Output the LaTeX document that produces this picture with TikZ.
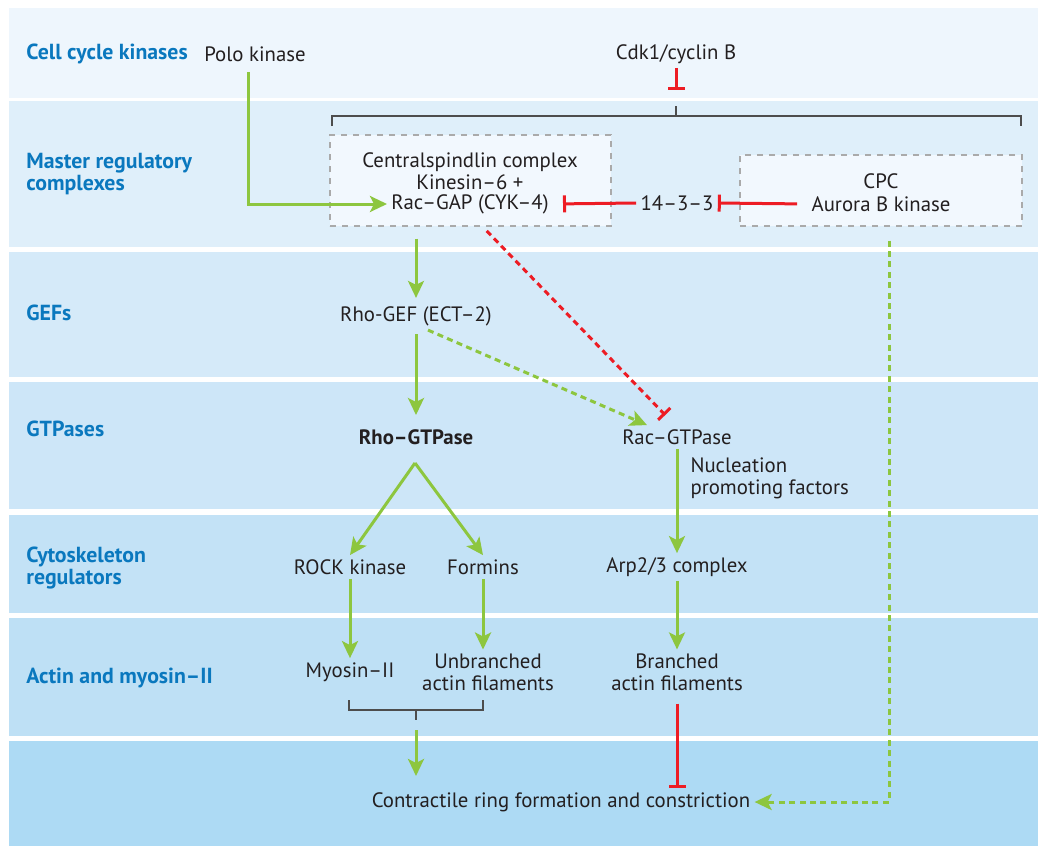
\documentclass[tikz,border=0pt]{standalone}
\usepackage{fontspec}
\setmainfont{PT Sans}
\usetikzlibrary{arrows.meta,positioning}
\definecolor{bandA}{HTML}{EEF6FD}
\definecolor{bandB}{HTML}{DFEFFA}
\definecolor{bandC}{HTML}{D5EAF9}
\definecolor{bandD}{HTML}{CDE6F8}
\definecolor{bandE}{HTML}{C3E2F6}
\definecolor{bandF}{HTML}{BEE0F5}
\definecolor{bandG}{HTML}{ADDAF4}
\definecolor{labelblue}{HTML}{0A78BE}
\definecolor{txtdark}{HTML}{231F20}
\definecolor{actgreen}{HTML}{8DC63F}
\definecolor{inhred}{HTML}{ED1C24}
\definecolor{boxgray}{HTML}{AAAAAA}
\definecolor{boxfill}{HTML}{F2F8FE}
\definecolor{brkgray}{HTML}{4D4D4D}
\newcommand{\diagfont}{\fontsize{10.4}{11.2}\selectfont}
\newcommand{\rowfont}{\fontsize{10.9}{11.4}\selectfont\bfseries}
\tikzset{
  lbl/.style={anchor=west, inner sep=0pt, font=\rowfont, text=labelblue, align=left},
  txt/.style={text=txtdark, align=center, inner sep=2pt, font=\diagfont},
  cxbox/.style={draw=boxgray, dashed, fill=boxfill, line width=0.6pt},
  act/.style={draw=actgreen, line width=1.5pt, -{Stealth[length=8.5pt,width=8pt,inset=2pt]}},
  inh/.style={draw=inhred, line width=1.5pt, -{Bar[width=8.5pt]}},
  dsh/.style={line width=1.5pt, dash pattern=on 3pt off 2.2pt},
  brk/.style={draw=brkgray, line width=0.8pt},
  npf/.style={anchor=west, xshift=4pt, pos=0.28, align=left, text=txtdark, inner sep=2pt, font=\diagfont},
}
\begin{document}
\begin{tikzpicture}[x=0.5pt,y=-0.5pt]
\useasboundingbox (0,0) rectangle (1038,846);
% bands
\foreach \ytop/\ybot/\col in {8/98/bandA,101/247/bandB,252/377/bandC,382/509/bandD,515/613/bandE,618/736/bandF,741/846/bandG}
  \fill[\col] (9,\ytop) rectangle (1038,\ybot);

% row labels
\node[lbl] (lcc) at (26,54) {Cell cycle kinases};
\node[lbl] (lmr) at (26,174) {Master regulatory\\complexes};
\node[lbl] (lgef) at (26,313) {GEFs};
\node[lbl] (lgtp) at (26,429) {GTPases};
\node[lbl] (lcyt) at (26,568) {Cytoskeleton\\regulators};
\node[lbl] (lact) at (26,678) {Actin and myosin–II};

% kinases
\node[txt] (polo) at (255,54) {Polo kinase};
\node[txt] (cdk) at (676,54) {Cdk1/cyclin B};

% complexes
\node[cxbox, minimum width=140.5pt, minimum height=45.5pt] (csbox) at (470.5,180.5) {};
\node[txt] (cs) at (470,171) {Centralspindlin complex\\Kinesin–6 +};
\node[txt] (racgap) at (470,204) {Rac–GAP (CYK–4)};
\node[cxbox, minimum width=141pt, minimum height=35.5pt] (cpcbox) at (881,190.5) {};
\node[txt] (cpc) at (881,181) {CPC};
\node[txt] (aurora) at (881,204) {Aurora B kinase};
\node[txt] (p1433) at (677,203) {14–3–3};

% GEFs and GTPases
\node[txt] (rhogef) at (416,316) {Rho-GEF (ECT–2)};
\node[txt, font=\diagfont\bfseries] (rhogtp) at (416,437) {Rho–GTPase};
\node[txt] (racgtp) at (677,437) {Rac–GTPase};

% cytoskeleton regulators
\node[txt] (rock) at (350,567) {ROCK kinase};
\node[txt] (formins) at (483,567) {Formins};
\node[txt] (arp) at (677,567) {Arp2/3 complex};

% actin and myosin
\node[txt] (myosin) at (350,672) {Myosin–II};
\node[txt] (unbr) at (488,672.5) {Unbranched\\actin filaments};
\node[txt] (branched) at (677,672.5) {Branched\\actin filaments};

\node[txt] (ring) at (561,802) {Contractile ring formation and constriction};

% brackets
\coordinate (cdkbrk) at (676,106);
\draw[brk] (332,126) |- (1021,116) -- (1021,126);
\draw[brk] (676,116) -- (cdkbrk);
\coordinate (actbrk) at (416,720);
\draw[brk] (349,700) |- (483,710) -- (483,700);
\draw[brk] (416,710) -- (actbrk);
\coordinate (rhofork) at (415,463);

% connectors
\draw[act, shorten <=3pt] ([xshift=-3.5pt]polo.south) |- (racgap.west);
\draw[inh, shorten >=8pt] (cdk.south) -- (cdkbrk);
\draw[inh, shorten >=5pt] (p1433.west) -- (racgap.east);
\draw[inh, shorten <=5pt] (aurora.west) -- (p1433.east);
\draw[act, shorten <=6pt, shorten >=2pt] (csbox.south -| rhogef) -- (rhogef.north);
\draw[act, shorten <=2pt, shorten >=5pt] (rhogef.south) -- (rhogtp.north);
\draw[act, dsh] ([xshift=6pt]rhogef.south) -- ([xshift=-15pt]racgtp.north);
\draw[inh, dsh, shorten <=3pt, shorten >=7pt] ([xshift=6pt]csbox.south) -- ([xshift=-1pt]racgtp.north);
\draw[act] (rhofork) -- (rock.north);
\draw[act] (rhofork) -- (formins.north);
\draw[act] (racgtp.south) -- node[npf] {Nucleation\\promoting factors} (arp.north);
\draw[act] (rock.south) -- (myosin.north);
\draw[act] (formins.south) -- (formins.south |- unbr.north);
\draw[act] (arp.south) -- (branched.north);
\draw[act, shorten <=5pt, shorten >=6pt] (actbrk) -- (actbrk |- ring.north);
\draw[inh, shorten <=4pt] (branched.south) -- (branched.south |- ring.north);
\draw[act, dsh, shorten <=7pt] ([xshift=4pt]cpcbox.south) |- (ring.east);
\end{tikzpicture}
\end{document}
